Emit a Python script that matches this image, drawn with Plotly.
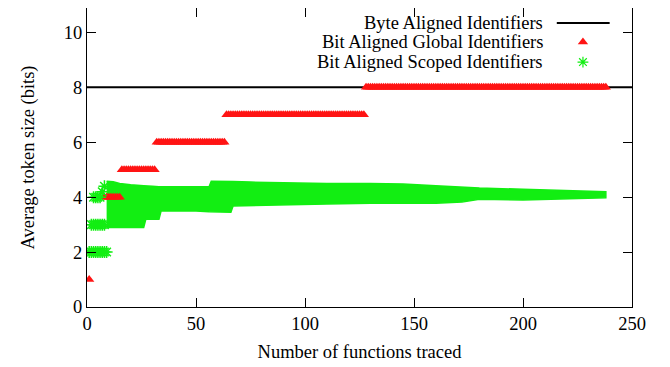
import plotly.graph_objects as go

# ---------------- data ----------------
# Byte aligned identifiers: constant 8 bits
byte_x = [0, 250]
byte_y = [8, 8]

# Bit aligned global identifiers: runs of constant token size
global_levels = [1, 2, 3, 4, 5, 6, 7, 8]
global_first = [1, 2, 4, 8, 16, 32, 64, 128]
global_last = [1, 3, 7, 15, 31, 63, 127, 238]

# Bit aligned scoped identifiers: early discrete clusters
scoped_two_x = [1, 2, 3, 4, 5, 6, 7, 8, 9]
scoped_two_y = [2, 2, 2, 2, 2, 2, 2, 2, 2]
scoped_three_x = [2, 3, 4, 5, 6, 7, 8]
scoped_three_y = [3, 3, 3, 3, 3, 3, 3]
scoped_four_x = [3, 4, 5, 6, 7, 8]
scoped_four_y = [4, 4, 4, 4, 4.2, 4.4]

# Bit aligned scoped identifiers: dense band (lower / upper envelope)
band_x = [9, 12, 15, 20, 26, 27, 30, 33, 34, 40, 50, 56, 57, 60, 66, 67, 75, 90,
          110, 130, 145, 160, 172, 180, 200, 220, 238]
band_lo = [2.9, 2.9, 2.9, 2.9, 2.9, 3.2, 3.2, 3.2, 3.5, 3.5, 3.5, 3.47, 3.45, 3.45,
           3.45, 3.68, 3.7, 3.72, 3.75, 3.78, 3.78, 3.78, 3.82, 3.92, 3.9, 3.93, 3.98]
band_hi = [4.58, 4.56, 4.5, 4.45, 4.42, 4.42, 4.4, 4.38, 4.38, 4.36, 4.36, 4.38,
           4.58, 4.58, 4.57, 4.57, 4.55, 4.52, 4.5, 4.5, 4.48, 4.42, 4.36, 4.33,
           4.29, 4.25, 4.2]

x_ticks = [0, 50, 100, 150, 200, 250]
y_ticks = [0, 2, 4, 6, 8, 10]

legend_labels = ["Byte Aligned Identifiers",
                 "Bit Aligned Global Identifiers",
                 "Bit Aligned Scoped Identifiers"]

# ---------------- styles ----------------
RED = "#ff1414"
GREEN = "#12ee12"
FONT = "Times New Roman, Times, Liberation Serif, serif"
FS = 18.5

# expand runs of the global series
gx, gy = [], []
for lvl, a, b in zip(global_levels, global_first, global_last):
    for n in range(a, b + 1):
        gx.append(n)
        gy.append(lvl)

fig = go.Figure()

# byte aligned line
fig.add_trace(go.Scatter(x=byte_x, y=byte_y, mode="lines",
                         line=dict(color="black", width=2), showlegend=False,
                         hoverinfo="skip"))

# scoped band (filled region between envelopes)
poly_x = band_x + band_x[::-1]
poly_y = band_hi + band_lo[::-1]
fig.add_trace(go.Scatter(x=poly_x, y=poly_y, mode="lines", fill="toself",
                         fillcolor=GREEN, line=dict(color=GREEN, width=1.5),
                         showlegend=False, hoverinfo="skip"))

# global (red triangles)
fig.add_trace(go.Scatter(x=gx, y=gy, mode="markers",
                         marker=dict(symbol="triangle-up", size=9, color=RED,
                                     line=dict(width=0)),
                         showlegend=False))

# scoped discrete clusters (green asterisks)
ast = dict(symbol="asterisk-open", size=10, color=GREEN,
           line=dict(color=GREEN, width=1.5))
for xs, ys in [(scoped_two_x, scoped_two_y), (scoped_three_x, scoped_three_y),
               (scoped_four_x, scoped_four_y)]:
    fig.add_trace(go.Scatter(x=xs, y=ys, mode="markers", marker=ast,
                             showlegend=False))

# ---------------- custom legend (text left of sample, gnuplot style) ----------------
leg_text_x = 0.840
leg_rows = [0.950, 0.886, 0.819]
for lbl, yy in zip(legend_labels, leg_rows):
    fig.add_annotation(text=lbl, xref="paper", yref="paper", x=leg_text_x, y=yy,
                       xanchor="right", yanchor="middle", showarrow=False,
                       font=dict(family=FONT, size=FS, color="black"))
fig.add_shape(type="line", xref="paper", yref="paper", x0=0.862, x1=0.959,
              y0=leg_rows[0], y1=leg_rows[0], line=dict(color="black", width=2))
fig.add_trace(go.Scatter(x=[0.910], y=[leg_rows[1]], xaxis="x2", yaxis="y2",
                         mode="markers",
                         marker=dict(symbol="triangle-up", size=9, color=RED),
                         showlegend=False, hoverinfo="skip"))
fig.add_trace(go.Scatter(x=[0.910], y=[leg_rows[2]], xaxis="x2", yaxis="y2",
                         mode="markers",
                         marker=dict(symbol="asterisk-open", size=9, color=GREEN,
                                     line=dict(color=GREEN, width=1.2)),
                         showlegend=False, hoverinfo="skip"))

axis_common = dict(showgrid=False, zeroline=False, showline=True,
                   linecolor="black", linewidth=1.2, mirror="ticks",
                   ticks="inside", ticklen=9, tickwidth=1.2, tickcolor="black",
                   tickfont=dict(family=FONT, size=FS, color="black"))

fig.update_layout(
    width=662, height=359,
    margin=dict(l=79, r=38, t=0, b=60),
    paper_bgcolor="white", plot_bgcolor="white",
    font=dict(family=FONT, size=FS, color="black"),
    showlegend=False,
    xaxis=dict(range=[0, 250], tickvals=x_ticks,
               title=dict(text="Number of functions traced", standoff=11,
                          font=dict(family=FONT, size=FS)),
               **axis_common),
    yaxis=dict(range=[0, 10.89], tickvals=y_ticks,
               title=dict(text="Average token size (bits)", standoff=24,
                          font=dict(family=FONT, size=FS)),
               **axis_common),
    xaxis2=dict(range=[0, 1], overlaying="x", visible=False),
    yaxis2=dict(range=[0, 1], overlaying="y", visible=False),
)

fig.write_html("out.html")
